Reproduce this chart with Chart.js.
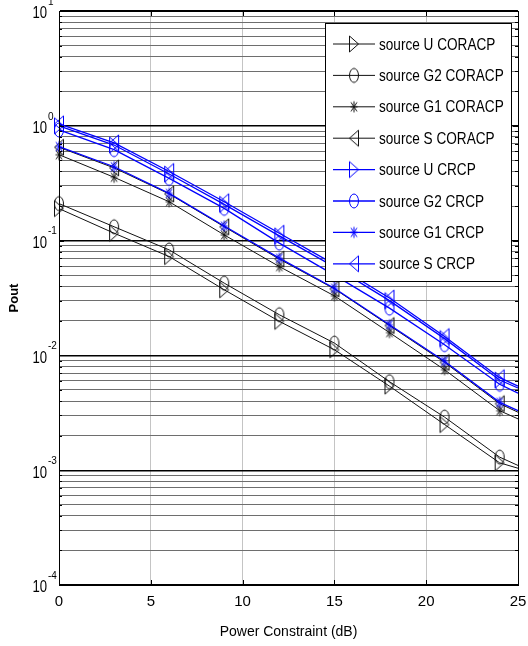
<!DOCTYPE html>
<html>
<head>
<meta charset="utf-8">
<script src="https://cdn.jsdelivr.net/npm/chart.js@4.4.0/dist/chart.umd.min.js"></script>
<style>
  html, body { margin: 0; padding: 0; background: #fff; }
  #wrap { width: 528px; height: 646px; position: relative; }
</style>
</head>
<body>
<div id="wrap"><canvas id="chart"></canvas></div>
<script>
// x positions (dB) - markers every 3 dB, last point only carries the line to the edge
const powerDb = [0, 3, 6, 9, 12, 15, 18, 21, 24, 25];

const seriesNames = [
  "source U CORACP", "source G2 CORACP", "source G1 CORACP", "source S CORACP",
  "source U CRCP", "source G2 CRCP", "source G1 CRCP", "source S CRCP",
];

// values
const uCoracp  = [0.19, 0.116, 0.0726, 0.0373, 0.0198, 0.0112, 0.0054, 0.0025, 0.00116, 0.00104];
const g2Coracp = [0.21, 0.132, 0.083, 0.0426, 0.0226, 0.0128, 0.0059, 0.0029, 0.0013, 0.0011];
const g1Coracp = [0.56, 0.356, 0.218, 0.112, 0.0594, 0.033, 0.0158, 0.0075, 0.0033, 0.0028];
const sCoracp  = [0.65, 0.43, 0.255, 0.132, 0.069, 0.038, 0.0182, 0.0087, 0.0038, 0.0032];
const uCrcp    = [1.0, 0.68, 0.38, 0.207, 0.11, 0.059, 0.030, 0.014, 0.0061, 0.0052];
const g2Crcp   = [0.92, 0.62, 0.348, 0.191, 0.095, 0.050, 0.0258, 0.0124, 0.0056, 0.0047];
const g1Crcp   = [0.66, 0.44, 0.258, 0.134, 0.0703, 0.0385, 0.0185, 0.0089, 0.0039, 0.0033];
const sCrcp    = [1.04, 0.71, 0.40, 0.218, 0.116, 0.062, 0.0316, 0.0146, 0.0064, 0.0054];

const xTicks = [0, 5, 10, 15, 20, 25];
const yDecades = [-4, -3, -2, -1, 0, 1];

const FONT = "'Liberation Sans', Arial, sans-serif";
const BLACK = "#111";
const BLUE = "#0000ff";

// MATLAB-like hollow markers (figure was stretched vertically, so they are tall)
const makeMarker = (kind, color) => {
  const c = document.createElement("canvas");
  c.width = 14;
  c.height = 20;
  const g = c.getContext("2d");
  g.strokeStyle = color;
  g.lineWidth = 1;
  const cx = 7, cy = 10;
  g.beginPath();
  if (kind === "right") {
    g.moveTo(cx - 4.5, cy - 8); g.lineTo(cx + 4.5, cy); g.lineTo(cx - 4.5, cy + 8); g.closePath();
  } else if (kind === "left") {
    g.moveTo(cx + 4.5, cy - 8); g.lineTo(cx - 4.5, cy); g.lineTo(cx + 4.5, cy + 8); g.closePath();
  } else if (kind === "circle") {
    g.ellipse(cx, cy, 4.5, 7, 0, 0, 2 * Math.PI);
  } else if (kind === "star") {
    g.moveTo(cx, cy - 5.5); g.lineTo(cx, cy + 5.5);
    g.moveTo(cx - 3.5, cy); g.lineTo(cx + 3.5, cy);
    g.moveTo(cx - 3, cy - 4.5); g.lineTo(cx + 3, cy + 4.5);
    g.moveTo(cx + 3, cy - 4.5); g.lineTo(cx - 3, cy + 4.5);
  }
  g.stroke();
  return c;
};

const seriesValues = [uCoracp, g2Coracp, g1Coracp, sCoracp, uCrcp, g2Crcp, g1Crcp, sCrcp];
const seriesMarkers = ["right", "circle", "star", "left", "right", "circle", "star", "left"];

const datasets = seriesValues.map((vals, i) => {
  const color = i < 4 ? BLACK : BLUE;
  const marker = makeMarker(seriesMarkers[i], color);
  return {
    label: seriesNames[i],
    data: powerDb.map((x, j) => ({ x, y: vals[j] })),
    borderColor: color,
    backgroundColor: "transparent",
    borderWidth: i < 4 ? 1 : 1.3,
    tension: 0,
    pointStyle: marker,
    pointRadius: (ctx) => (ctx.dataIndex === powerDb.length - 1 ? 0 : 5),
    pointHoverRadius: 0,
    clip: false,
    order: i < 4 ? 2 : 1,
    _marker: marker,
  };
});

const isDecade = (v) => Math.abs(Math.log10(v) - Math.round(Math.log10(v))) < 1e-6;

// text squeezed horizontally, the original figure is a narrow/tall font
const narrowText = (ctx, text, x, y, sx) => {
  ctx.save();
  ctx.translate(x, y);
  ctx.scale(sx, 1);
  ctx.fillText(text, 0, 0);
  ctx.restore();
};

const matlabPlugin = {
  id: "matlabDecor",
  afterDraw(chart) {
    const { ctx, chartArea: a, scales } = chart;
    const xs = scales.x, ys = scales.y;
    ctx.save();

    // inward tick marks
    ctx.strokeStyle = "#000";
    ctx.lineWidth = 1;
    ctx.beginPath();
    xTicks.forEach((t) => {
      const px = Math.round(xs.getPixelForValue(t)) + 0.5;
      ctx.moveTo(px, a.bottom); ctx.lineTo(px, a.bottom - 5);
      ctx.moveTo(px, a.top); ctx.lineTo(px, a.top + 5);
    });
    ys.ticks.forEach((t) => {
      const py = Math.round(ys.getPixelForValue(t.value)) + 0.5;
      const len = isDecade(t.value) ? 5 : 3;
      ctx.moveTo(a.left, py); ctx.lineTo(a.left + len, py);
      ctx.moveTo(a.right, py); ctx.lineTo(a.right - len, py);
    });
    ctx.stroke();

    // box
    ctx.strokeRect(Math.round(a.left) + 0.5, Math.round(a.top) + 0.5,
      Math.round(a.right - a.left), Math.round(a.bottom - a.top));

    // y tick labels 10^k
    ctx.fillStyle = "#000";
    yDecades.forEach((k) => {
      const py = ys.getPixelForValue(Math.pow(10, k));
      ctx.font = `16px ${FONT}`;
      ctx.textAlign = "right";
      ctx.textBaseline = "middle";
      narrowText(ctx, "10", a.left - 12, py + 3, 0.82);
      ctx.font = `10px ${FONT}`;
      ctx.textAlign = "left";
      ctx.fillText(String(k), a.left - 11, py - 9);
    });

    // legend box inside the axes
    const lx = a.right - 193, ly = a.top + 12, lw = 186, lh = 258;
    ctx.fillStyle = "#fff";
    ctx.fillRect(lx, ly, lw, lh);
    ctx.strokeStyle = "#000";
    ctx.strokeRect(Math.round(lx) + 0.5, Math.round(ly) + 0.5, lw, lh);
    chart.data.datasets.forEach((ds, i) => {
      const ry = ly + 21 + i * 31.4;
      ctx.strokeStyle = ds.borderColor;
      ctx.lineWidth = ds.borderWidth;
      ctx.beginPath();
      ctx.moveTo(lx + 8, ry); ctx.lineTo(lx + 50, ry);
      ctx.stroke();
      ctx.drawImage(ds._marker, lx + 29 - 7, ry - 10);
      ctx.fillStyle = "#000";
      ctx.font = `17px ${FONT}`;
      ctx.textAlign = "left";
      ctx.textBaseline = "middle";
      narrowText(ctx, ds.label, lx + 54, ry + 1, 0.8);
    });
    ctx.restore();
  },
};

new Chart(document.getElementById("chart"), {
  type: "line",
  data: { datasets },
  options: {
    responsive: true,
    maintainAspectRatio: false,
    animation: false,
    events: [],
    layout: { padding: { top: 11, right: 10, left: 0, bottom: 0 } },
    plugins: { legend: { display: false }, tooltip: { enabled: false } },
    scales: {
      x: {
        type: "linear",
        min: 0,
        max: 25,
        afterBuildTicks: (scale) => { scale.ticks = xTicks.map((v) => ({ value: v })); },
        afterFit: (scale) => {
          scale.height = 61;
          scale.paddingLeft = 0;
          scale.paddingRight = 0;
        },
        ticks: { color: "#000", font: { family: FONT, size: 15 }, padding: 8, maxRotation: 0 },
        grid: { color: "#c4c4c4", lineWidth: 1, drawTicks: false },
        border: { color: "#000" },
        title: {
          display: true,
          text: "Power Constraint (dB)",
          color: "#000",
          font: { family: FONT, size: 14 },
          padding: { top: 0, bottom: 5 },
        },
      },
      y: {
        type: "logarithmic",
        min: 1e-4,
        max: 10,
        afterBuildTicks: (scale) => {
          const t = [];
          for (let k = -4; k <= 0; k++) {
            for (let m = 1; m <= 9; m++) t.push({ value: m * Math.pow(10, k) });
          }
          t.push({ value: 10 });
          scale.ticks = t;
        },
        afterFit: (scale) => {
          scale.width = 59;
          scale.paddingTop = 0;
          scale.paddingBottom = 0;
        },
        ticks: { display: false },
        grid: {
          color: (c) => (c.tick && isDecade(c.tick.value) ? "#000" : "#6e6e6e"),
          lineWidth: (c) => (c.tick && isDecade(c.tick.value) ? 1.4 : 1),
          drawTicks: false,
        },
        border: { color: "#000" },
        title: {
          display: true,
          text: "Pout",
          color: "#000",
          font: { family: FONT, size: 13, weight: "bold" },
          padding: { top: 7, bottom: 0 },
        },
      },
    },
  },
  plugins: [matlabPlugin],
});
</script>
</body>
</html>
